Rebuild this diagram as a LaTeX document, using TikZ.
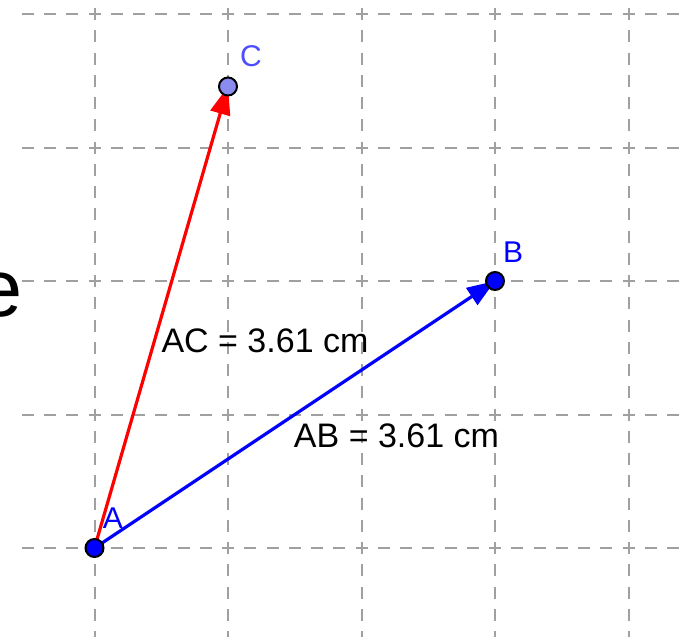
\documentclass[tikz,border=0pt]{standalone}
\usepackage{fontspec}
\setmainfont{Liberation Sans}
\usetikzlibrary{arrows.meta}
\definecolor{gridgray}{HTML}{A0A0A0}
\definecolor{vblue}{HTML}{0000FF}
\definecolor{vred}{HTML}{FF0000}
\definecolor{cfill}{HTML}{8C8CF0}
\definecolor{clabel}{HTML}{4D4DFF}
\tikzset{
  gridline/.style={gridgray, line width=2pt, dash pattern=on 12pt off 10.25pt, dash phase=6pt},
  vec/.style={line width=3.2pt, -{Triangle[length=28pt,width=20pt]}},
  ptnode/.style={circle, inner sep=0pt, minimum size=18pt, draw=black, line width=2pt},
  ptlabel/.style={font=\fontsize{30}{34}\selectfont, inner sep=0pt},
  measure/.style={font=\fontsize{34}{40}\selectfont, inner sep=0pt, anchor=base, text=black}
}
\begin{document}
\begin{tikzpicture}[x=1pt,y=-1pt]
\useasboundingbox (0,0) rectangle (688,637);
\clip (0,0) rectangle (688,637);
% grid
\foreach \i in {0,...,4} {
  \draw[gridline] (94.5+133.5*\i,-119.5) -- (94.5+133.5*\i,700);
}
\begin{scope}
  \clip (17,-10) rectangle (700,700);
  \foreach \i in {0,...,4} {
    \draw[gridline] (-39,14+133.5*\i) -- (760,14+133.5*\i);
  }
\end{scope}
% cut-off letter
\node[font=\fontsize{81}{90}\selectfont, anchor=base west, inner sep=0pt] (e) at (-23,316) {e};
% points
\coordinate (A) at (94.5,548);
\coordinate (B) at (495,281);
\coordinate (C) at (228,86.5);
% vectors
\draw[vec, vred] (A) -- (C);
\draw[vec, vblue] (A) -- (B);
% point markers
\node[ptnode, fill=vblue] (pA) at (A) {};
\node[ptnode, fill=vblue] (pB) at (B) {};
\node[ptnode, fill=cfill] (pC) at (C) {};
% point labels
\node[ptlabel, text=vblue] (lA) at (113,518) {A};
\node[ptlabel, text=vblue] (lB) at (513,252) {B};
\node[ptlabel, text=clabel] (lC) at (251,56) {C};
% measures
\node[measure] (mAC) at (265,352) {AC = 3.61 cm};
\node[measure] (mAB) at (396.5,447) {AB = 3.61 cm};
\end{tikzpicture}
\end{document}
